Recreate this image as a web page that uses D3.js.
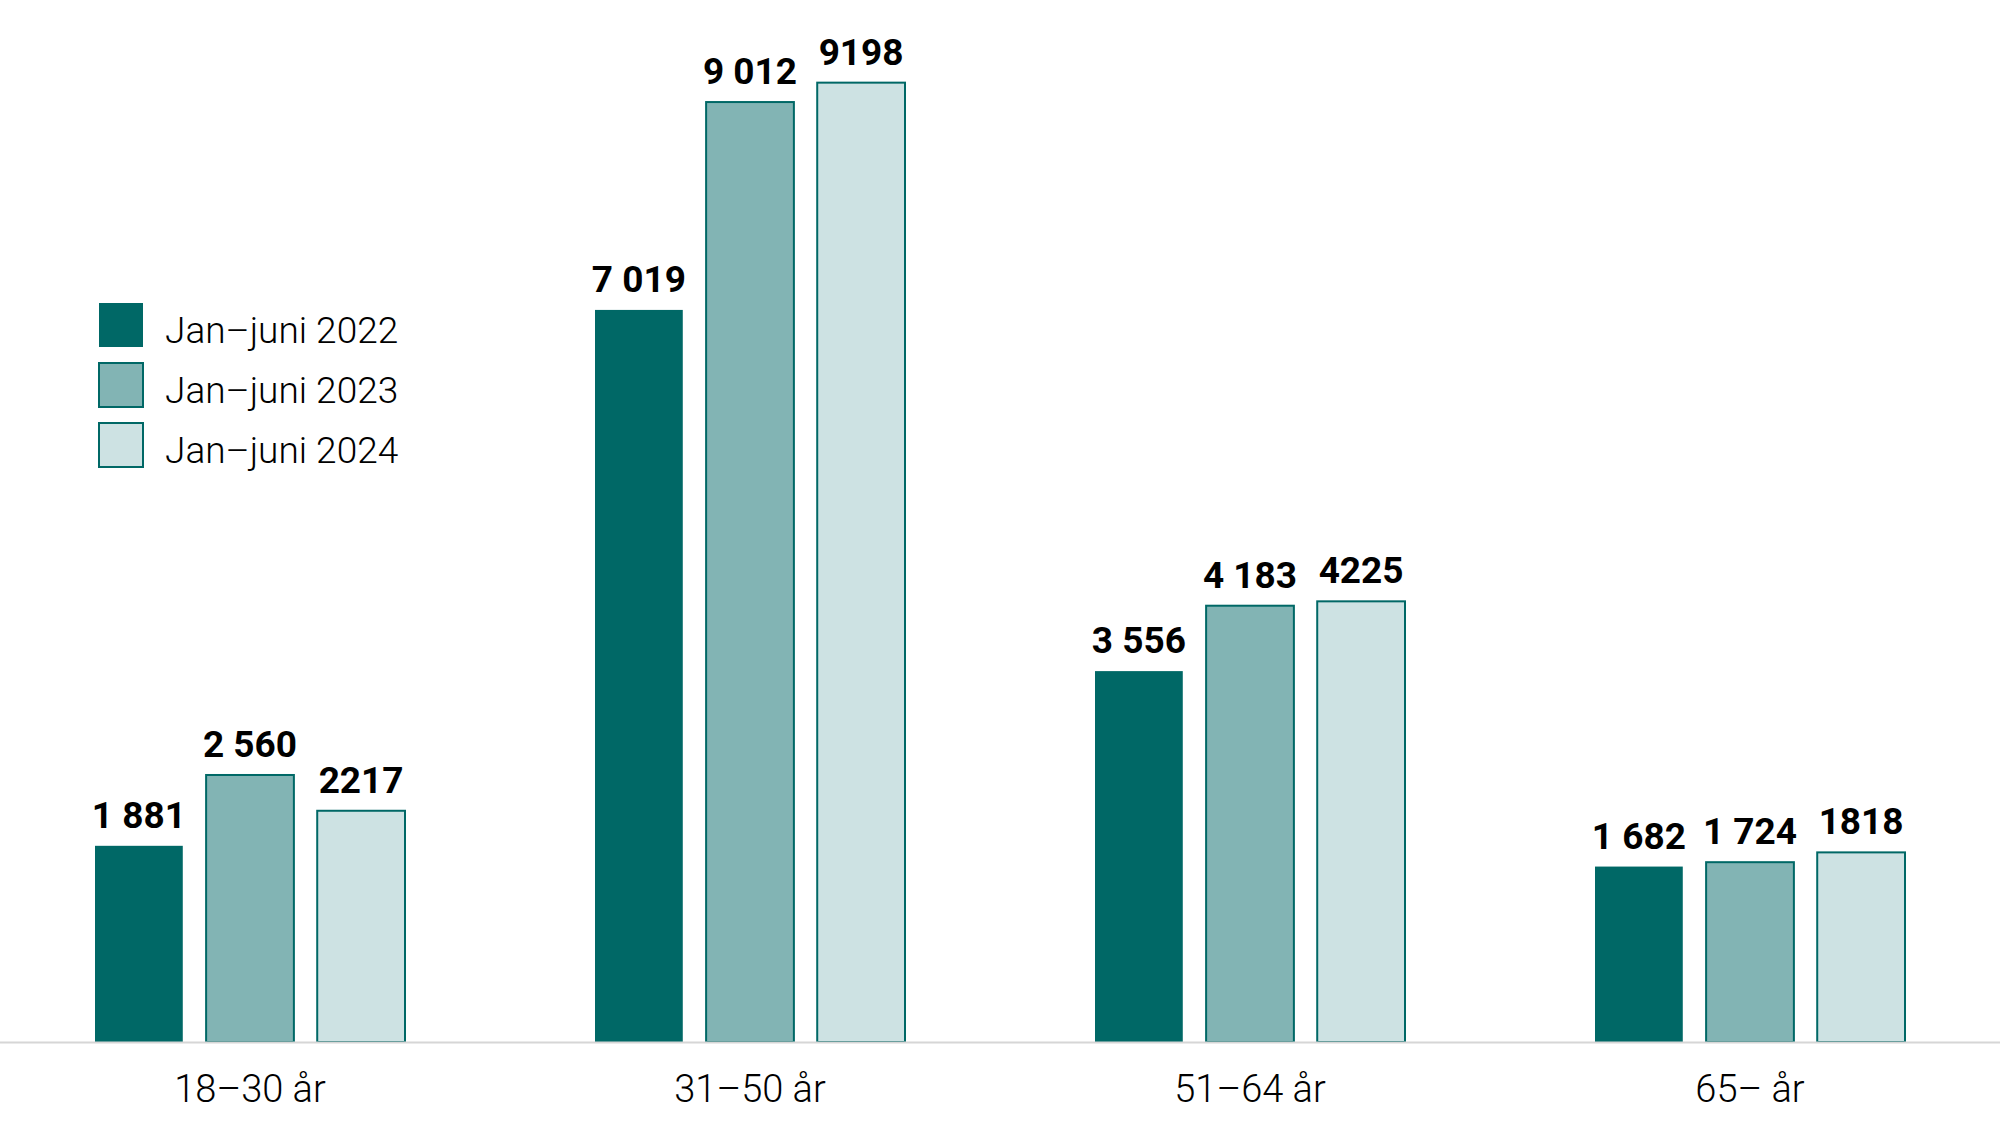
<!DOCTYPE html>
<html><head><meta charset="utf-8">
<script src="https://cdn.jsdelivr.net/npm/d3@7"></script>
<style>html,body{margin:0;padding:0;background:#fff;}svg{display:block;}</style>
</head><body>
<svg id="chart" width="2000" height="1125"></svg>
<script>
const categories = ["18\u201330 år", "31\u201350 år", "51\u201364 år", "65\u2013 år"];
const series = ["Jan\u2013juni 2022", "Jan\u2013juni 2023", "Jan\u2013juni 2024"];
const values2022 = [1881, 7019, 3556, 1682];
const values2023 = [2560, 9012, 4183, 1724];
const values2024 = [2217, 9198, 4225, 1818];
const labels2022 = ["1 881", "7 019", "3 556", "1 682"];
const labels2023 = ["2 560", "9 012", "4 183", "1 724"];
const labels2024 = ["2217", "9198", "4225", "1818"];
const colors = ["#006866", "#82b4b4", "#cde2e3"];
const strokes = ["none", "#006866", "#006866"];

const seriesValues = [values2022, values2023, values2024];
const seriesLabels = [labels2022, labels2023, labels2024];

const svg = d3.select("#chart");
const baseY = 1042;
const x0 = d3.scaleBand().domain(categories).range([0, 2000]).padding(0);
const x1 = d3.scaleBand().domain(series).range([-155, 155]).paddingInner(0.21).paddingOuter(0);
const y = d3.scaleLinear().domain([0, 10000]).range([baseY, -1]);

const data = [];
categories.forEach((c, ci) => series.forEach((s, si) => data.push({c, s, si, v: seriesValues[si][ci], label: seriesLabels[si][ci]})));

const g = svg.append("g");
g.selectAll("rect.bar").data(data).join("rect")
  .attr("class", "bar")
  .attr("x", d => x0(d.c) + x0.bandwidth() / 2 + x1(d.s))
  .attr("width", x1.bandwidth())
  .attr("y", d => y(d.v))
  .attr("height", d => y(0) - y(d.v))
  .attr("fill", d => colors[d.si])
  .attr("stroke", d => strokes[d.si])
  .attr("stroke-width", 2);

// baseline
svg.append("line").attr("x1", 0).attr("x2", 2000).attr("y1", baseY + 0.5).attr("y2", baseY + 0.5)
  .attr("stroke", "#d6d6d6").attr("stroke-width", 2);

g.selectAll("text.val").data(data).join("text")
  .attr("class", "val")
  .attr("x", d => x0(d.c) + x0.bandwidth() / 2 + x1(d.s) + x1.bandwidth() / 2)
  .attr("y", d => y(d.v) - 18)
  .attr("text-anchor", "middle")
  .attr("font-family", "Roboto")
  .attr("font-weight", 700)
  .attr("font-size", 37)
  .attr("fill", "#000")
  .text(d => d.label);

// category labels
const xAxis = d3.axisBottom(x0).tickSize(0).tickPadding(0);
const ax = svg.append("g").attr("transform", `translate(0,${baseY})`).call(xAxis);
ax.select(".domain").remove();
ax.selectAll("text")
  .attr("font-family", "Roboto")
  .attr("font-weight", 300)
  .attr("font-size", 38)
  .attr("fill", "#000")
  .attr("dy", null)
  .attr("y", 60);

// legend
const leg = svg.append("g");
series.forEach((s, i) => {
  const yy = 303 + i * 60;
  leg.append("rect").attr("x", 99).attr("y", yy).attr("width", 44).attr("height", 44)
    .attr("fill", colors[i]).attr("stroke", i === 0 ? "none" : "#006866").attr("stroke-width", 2);
  leg.append("text").attr("x", 165).attr("y", yy + 40)
    .attr("font-family", "Roboto").attr("font-weight", 300).attr("font-size", 37)
    .attr("fill", "#000").text(s);
});
</script>
</body></html>
